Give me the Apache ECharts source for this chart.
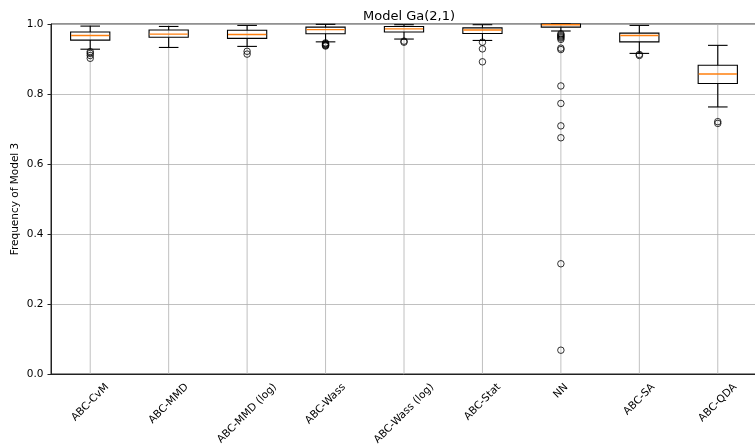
<!DOCTYPE html>
<html>
<head>
<meta charset="utf-8">
<script src="https://cdn.jsdelivr.net/npm/echarts@6/dist/echarts.min.js"></script>
<style>
  html, body { margin: 0; padding: 0; background: #fff; }
  #chart { width: 755px; height: 444px; }
</style>
</head>
<body>
<div id="chart"></div>
<script>
// Methods compared on the x axis
const categories = ['ABC-CvM', 'ABC-MMD', 'ABC-MMD (log)', 'ABC-Wass', 'ABC-Wass (log)',
                    'ABC-Stat', 'NN', 'ABC-SA', 'ABC-QDA'];

// Five-number summaries per method
const whiskerLow  = [0.928, 0.933, 0.936, 0.949, 0.957, 0.953, 0.980, 0.916, 0.763];
const q1          = [0.954, 0.962, 0.959, 0.972, 0.977, 0.973, 0.991, 0.949, 0.830];
const median      = [0.967, 0.971, 0.970, 0.984, 0.986, 0.983, 0.998, 0.967, 0.857];
const q3          = [0.977, 0.983, 0.982, 0.991, 0.993, 0.989, 1.000, 0.974, 0.882];
const whiskerHigh = [0.994, 0.993, 0.996, 0.999, 0.998, 0.998, 1.000, 0.996, 0.939];

// Outlying runs per method
const outliers = [
  [0.921, 0.916, 0.910, 0.902],
  [],
  [0.922, 0.914],
  [0.946, 0.944, 0.942, 0.940, 0.939, 0.937],
  [0.951, 0.948],
  [0.948, 0.929, 0.892],
  [0.972, 0.969, 0.966, 0.963, 0.960, 0.956, 0.931, 0.927, 0.823, 0.773, 0.709, 0.675, 0.315, 0.068],
  [0.913, 0.910],
  [0.721, 0.716]
];

const yTicks = [0.0, 0.2, 0.4, 0.6, 0.8, 1.0];

const FONT = 'DejaVu Sans';
const TICK_FONT_SIZE = 10.5;

const boxData = categories.map((c, i) => [i, whiskerLow[i], q1[i], median[i], q3[i], whiskerHigh[i]]);
const flierData = [];
outliers.forEach((vals, i) => vals.forEach(v => flierData.push([i, v])));

// Rotated x labels are centred under their tick: each label gets padding
// that shifts its centre straight down by half its rotated extent.
const measureCtx = document.createElement('canvas').getContext('2d');
measureCtx.font = TICK_FONT_SIZE + 'px "' + FONT + '"';
const lineH = TICK_FONT_SIZE * 1.2;
const rich = {};
categories.forEach((c, i) => {
  const w = measureCtx.measureText(c).width;
  const p = (w + lineH) / 2;
  rich['s' + i] = {
    fontFamily: FONT, fontSize: TICK_FONT_SIZE, color: '#000',
    padding: [p, p, 0, 0]
  };
});

function renderBox(params, api) {
  const idx = api.value(0);
  const cs = params.coordSys;
  const pLo = api.coord([idx, api.value(1)]);
  const pQ1 = api.coord([idx, api.value(2)]);
  const pMed = api.coord([idx, api.value(3)]);
  const pQ3 = api.coord([idx, api.value(4)]);
  const pHi = api.coord([idx, api.value(5)]);
  const cx = pMed[0];
  const bw = api.size([1, 0])[0] * 0.5;
  const cap = bw / 4;
  const black = { stroke: '#000', lineWidth: 1.1, fill: null };
  return {
    type: 'group',
    children: [
      { type: 'line', shape: { x1: cx, y1: cs.y, x2: cx, y2: cs.y + cs.height },
        style: { stroke: '#b0b0b0', lineWidth: 0.8 } },
      { type: 'line', shape: { x1: cx, y1: pLo[1], x2: cx, y2: pQ1[1] }, style: black },
      { type: 'line', shape: { x1: cx, y1: pQ3[1], x2: cx, y2: pHi[1] }, style: black },
      { type: 'line', shape: { x1: cx - cap, y1: pLo[1], x2: cx + cap, y2: pLo[1] }, style: black },
      { type: 'line', shape: { x1: cx - cap, y1: pHi[1], x2: cx + cap, y2: pHi[1] }, style: black },
      { type: 'rect', shape: { x: cx - bw / 2, y: pQ3[1], width: bw, height: pQ1[1] - pQ3[1] },
        style: { stroke: '#000', lineWidth: 1.1, fill: null } },
      { type: 'line', shape: { x1: cx - bw / 2 + 0.5, y1: pMed[1], x2: cx + bw / 2 - 0.5, y2: pMed[1] },
        style: { stroke: '#ff7f0e', lineWidth: 1.4 } }
    ]
  };
}

const chart = echarts.init(document.getElementById('chart'), null, { renderer: 'canvas' });
chart.setOption({
  animation: false,
  backgroundColor: '#fff',
  title: {
    text: 'Model Ga(2,1)',
    left: 358, top: 5,
    textStyle: { fontFamily: FONT, fontSize: 13, fontWeight: 'normal', color: '#000' }
  },
  grid: {
    left: 51, top: 24, width: 706, height: 350,
    outerBoundsMode: 'none',
    containLabel: false,
    show: true, borderColor: '#222', borderWidth: 1, backgroundColor: 'transparent'
  },
  xAxis: {
    type: 'category',
    data: categories,
    boundaryGap: true,
    axisLine: { lineStyle: { color: '#222', width: 1 } },
    axisTick: { alignWithLabel: true, length: 3.5, lineStyle: { color: '#222' } },
    splitLine: { show: false },
    axisLabel: {
      interval: 0,
      rotate: 45,
      align: 'center',
      verticalAlign: 'middle',
      margin: 7,
      hideOverlap: false,
      formatter: (v, i) => '{s' + i + '|' + v + '}',
      rich: rich
    }
  },
  yAxis: {
    type: 'value',
    min: yTicks[0],
    max: yTicks[yTicks.length - 1],
    interval: 0.2,
    name: 'Frequency of Model 3',
    nameLocation: 'middle',
    nameGap: 30,
    nameMoveOverlap: false,
    nameTextStyle: { fontFamily: FONT, fontSize: TICK_FONT_SIZE, color: '#000' },
    axisLine: { show: true, lineStyle: { color: '#222', width: 1 } },
    axisTick: { show: true, length: 3.5, lineStyle: { color: '#222' } },
    axisLabel: {
      margin: 7.5,
      fontFamily: FONT, fontSize: TICK_FONT_SIZE, color: '#000',
      formatter: v => v.toFixed(1)
    },
    splitLine: { show: true, lineStyle: { color: '#b0b0b0', width: 0.8 } }
  },
  series: [
    {
      type: 'custom',
      name: 'box',
      silent: true,
      z: 2,
      renderItem: renderBox,
      encode: { x: 0, y: [1, 2, 3, 4, 5] },
      data: boxData
    },
    {
      type: 'scatter',
      name: 'outliers',
      silent: true,
      z: 3,
      symbol: 'circle',
      symbolSize: 6.5,
      itemStyle: { color: 'rgba(0,0,0,0)', borderColor: '#000', borderWidth: 1 },
      data: flierData
    }
  ]
});
</script>
</body>
</html>
